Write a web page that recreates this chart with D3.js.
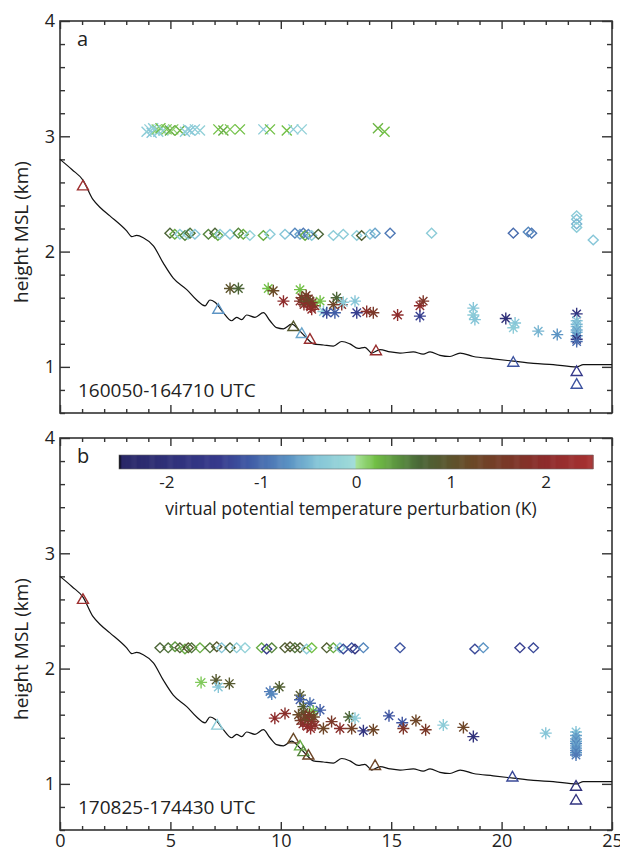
<!DOCTYPE html>
<html lang="en">
<head>
<meta charset="UTF-8">
<title>Virtual potential temperature perturbation</title>
<script src="https://d3js.org/d3.v7.min.js"></script>
<style>
  body { margin: 0; background: #fff; }
  text { font-family: "Open Sans", "Noto Sans", sans-serif; fill: #222; }
</style>
</head>
<body>
<div id="chart"></div>
<script>
// terrain profile (distance km, height km MSL)
const terrainDist = [0,0.55,1.04,1.5,1.83,2.26,3.02,3.25,3.47,3.77,4.23,4.68,5.13,5.74,6.19,6.57,6.79,7.02,7.4,7.77,8.0,8.23,8.45,8.83,9.21,9.51,9.81,10.12,10.49,10.87,11.17,11.47,11.93,12.38,12.76,13.13,13.51,13.81,14.12,14.49,14.95,15.4,16.0,16.45,16.76,17.21,17.66,18.12,18.72,19.62,20.53,21.44,22.34,23.4,23.7,25];
const terrainHeight = [2.8,2.71,2.62,2.45,2.38,2.31,2.18,2.13,2.14,2.12,2.05,1.9,1.77,1.67,1.58,1.53,1.58,1.56,1.47,1.4,1.43,1.41,1.45,1.43,1.47,1.4,1.34,1.33,1.37,1.31,1.25,1.2,1.19,1.18,1.22,1.2,1.16,1.17,1.12,1.15,1.13,1.12,1.13,1.11,1.13,1.1,1.09,1.12,1.09,1.07,1.05,1.03,1.02,1.0,1.02,1.02];

// observations: [distance, height, perturbation K]
const aCross = [[3.92,3.04,-0.3],[4.05,3.06,-0.2],[4.15,3.03,-0.4],[4.22,3.07,-0.3],[4.3,3.05,-0.2],[4.38,3.06,0.1],[4.45,3.04,-0.3],[4.55,3.07,0.2],[4.68,3.05,-0.2],[4.83,3.06,0.15],[4.98,3.05,0.3],[5.13,3.06,0.1],[5.43,3.05,0.25],[5.66,3.04,-0.3],[5.8,3.06,-0.2],[5.89,3.05,-0.4],[6.11,3.06,-0.3],[6.34,3.05,-0.2],[7.17,3.06,0.2],[7.4,3.05,0.3],[7.7,3.06,0.15],[8.15,3.06,0.2],[9.21,3.06,-0.3],[9.51,3.06,0.2],[10.27,3.05,0.2],[10.57,3.06,-0.3],[10.95,3.06,-0.2],[14.4,3.07,0.25],[14.7,3.04,0.2]];
const aDiamond = [[4.98,2.16,0.7],[5.2,2.15,0.3],[5.43,2.15,-0.3],[5.66,2.14,0.5],[5.8,2.15,-0.2],[5.89,2.16,0.6],[6.11,2.15,-0.4],[6.72,2.15,0.5],[7.02,2.16,0.7],[7.15,2.14,0.3],[7.25,2.15,-0.3],[7.7,2.15,-0.4],[8.08,2.16,0.5],[8.3,2.15,0.3],[8.6,2.14,-0.2],[9.21,2.14,0.3],[9.51,2.15,-0.3],[10.19,2.15,-0.4],[10.64,2.16,-0.8],[10.87,2.15,-0.6],[11.02,2.16,-0.9],[11.1,2.14,0.3],[11.25,2.15,-0.8],[11.4,2.14,-0.3],[11.7,2.15,0.7],[12.38,2.14,-0.3],[12.83,2.15,-0.3],[13.44,2.14,-0.3],[13.66,2.14,0.8],[14.04,2.15,-0.4],[14.27,2.16,-0.6],[14.95,2.16,-0.9],[16.83,2.16,-0.3],[20.53,2.16,-1.0],[21.21,2.17,-0.8],[21.36,2.16,-0.9],[23.4,2.31,-0.3],[23.4,2.28,-0.4],[23.4,2.24,-0.5],[23.4,2.21,-0.3],[24.15,2.1,-0.4]];
const aStar = [[7.7,1.68,1.0],[8.08,1.68,0.7],[9.43,1.68,0.2],[9.66,1.66,1.2],[10.12,1.57,2.0],[10.87,1.67,0.2],[10.87,1.57,1.9],[10.95,1.6,1.6],[11.05,1.54,1.8],[11.1,1.57,1.0],[11.15,1.62,1.4],[11.2,1.55,2.0],[11.25,1.59,1.7],[11.32,1.57,1.1],[11.35,1.52,1.9],[11.4,1.5,2.1],[11.45,1.56,1.5],[11.55,1.53,1.8],[11.78,1.57,0.2],[11.93,1.48,-0.3],[12.08,1.47,-1.3],[12.38,1.54,1.3],[12.45,1.47,-1.1],[12.53,1.6,0.7],[12.76,1.54,1.8],[12.83,1.56,-0.3],[13.36,1.57,-0.4],[13.44,1.47,-1.4],[13.89,1.48,1.9],[14.19,1.47,1.6],[15.29,1.45,2.0],[16.3,1.53,2.0],[16.45,1.57,1.7],[16.3,1.44,-1.4],[18.72,1.51,-0.4],[18.72,1.45,-0.3],[18.79,1.41,-0.4],[20.19,1.42,-2.0],[20.61,1.38,-0.4],[20.53,1.34,-0.3],[21.66,1.31,-0.5],[22.52,1.28,-0.7],[23.4,1.46,-1.8],[23.4,1.4,-0.4],[23.4,1.37,-0.5],[23.4,1.35,-0.4],[23.4,1.32,-0.6],[23.4,1.3,-0.5],[23.4,1.27,-0.7],[23.4,1.24,-1.9],[23.4,1.22,-1.0]];
const aTriangle = [[1.04,2.57,2.3],[7.17,1.5,-0.7],[10.57,1.35,0.9],[10.95,1.29,-0.6],[11.32,1.24,2.2],[14.31,1.14,2.2],[20.53,1.04,-1.2],[23.4,0.96,-1.5],[23.4,0.85,-1.2]];

const bDiamond = [[4.53,2.18,0.7],[4.9,2.18,0.6],[5.21,2.19,0.4],[5.43,2.18,0.8],[5.66,2.17,0.3],[5.81,2.18,0.9],[5.96,2.18,0.6],[6.34,2.18,0.3],[6.79,2.18,0.6],[7.1,2.19,0.9],[7.32,2.18,-0.4],[7.7,2.18,0.7],[8.0,2.18,-0.3],[8.38,2.18,-0.2],[9.13,2.18,0.3],[9.36,2.17,-1.5],[9.59,2.18,0.5],[10.19,2.18,0.8],[10.42,2.19,0.9],[10.64,2.18,0.6],[10.87,2.18,0.8],[11.17,2.17,-0.3],[11.4,2.18,0.2],[12.08,2.18,0.8],[12.38,2.18,0.3],[12.68,2.18,-0.4],[12.83,2.17,-1.3],[13.21,2.18,-1.2],[13.36,2.17,-1.8],[13.74,2.18,-0.8],[15.4,2.18,-1.2],[18.79,2.17,-1.3],[19.17,2.18,-0.7],[20.83,2.18,-1.4],[21.44,2.18,-1.3]];
const bStar = [[6.39,1.88,0.15],[7.07,1.9,0.9],[7.17,1.84,-0.4],[7.67,1.87,0.9],[9.51,1.8,-0.9],[9.59,1.78,-0.8],[9.73,1.57,2.0],[9.93,1.84,0.8],[10.19,1.61,1.9],[10.87,1.77,0.9],[10.87,1.73,-1.1],[11.02,1.67,0.8],[11.32,1.7,-1.0],[11.47,1.63,0.2],[11.78,1.64,-1.1],[10.8,1.6,1.2],[10.9,1.55,1.5],[11.0,1.52,1.9],[11.05,1.62,1.0],[11.1,1.58,1.4],[11.2,1.5,2.0],[11.25,1.56,1.2],[11.3,1.6,1.6],[11.35,1.48,2.1],[11.4,1.54,1.8],[11.5,1.58,1.3],[11.55,1.51,1.9],[11.93,1.48,1.3],[12.3,1.54,1.6],[12.68,1.48,1.9],[13.1,1.58,0.7],[13.36,1.57,-0.3],[13.21,1.48,1.4],[13.74,1.46,-1.8],[14.19,1.47,1.3],[14.9,1.59,-1.2],[15.5,1.53,-1.2],[15.55,1.48,1.7],[16.12,1.55,1.3],[16.56,1.47,1.6],[17.36,1.51,-0.3],[18.27,1.49,1.3],[18.72,1.41,-1.9],[22.0,1.44,-0.4],[23.37,1.45,-0.4],[23.37,1.42,-0.6],[23.37,1.39,-0.7],[23.37,1.37,-0.6],[23.37,1.35,-0.8],[23.37,1.33,-0.6],[23.37,1.31,-0.7],[23.37,1.29,-0.8],[23.37,1.27,-0.7],[23.37,1.25,-0.9]];
const bTriangle = [[1.04,2.6,2.3],[7.12,1.51,-0.3],[10.57,1.39,1.2],[10.87,1.33,0.3],[11.02,1.28,0.5],[11.25,1.25,1.3],[14.27,1.16,1.3],[20.49,1.06,-1.3],[23.37,0.98,-1.9],[23.37,0.86,-1.8]];

const colorStops = [-2.5,-2.47,-1.45,-1.13,-0.7,-0.4,-0.01,0,0.2,0.45,0.66,0.88,1.2,1.6,2.0,2.5];
const colorValues = ["#000000","#2a2868","#363a8c","#3f5aa5","#5c94c4","#86c6d8","#a0dcd8","#a8e29a","#72c046","#5a9040","#4a6838","#555a30","#6a4a28","#7a3828","#8e2c2c","#a83232"];
const colorTicks = [-2,-1,0,1,2];

const W = 620, H = 851;
const svg = d3.select("#chart").append("svg").attr("width", W).attr("height", H);

const color = d3.scaleLinear().domain(colorStops).range(colorValues).clamp(true);
const x = d3.scaleLinear().domain([0, 25]).range([60, 612]);

const shapes = {
  cross: "M-5,-5L5,5M-5,5L5,-5",
  diamond: "M0,-4.8L5,0L0,4.8L-5,0Z",
  star: "M-6,0L6,0M0,-6L0,6M-4.2,-4.2L4.2,4.2M-4.2,4.2L4.2,-4.2",
  triangle: "M0,-5.5L5.5,4L-5.5,4Z"
};

function panel(top, bottom, name, time, sets, showX) {
  const y = d3.scaleLinear().domain([0.6, 4]).range([bottom, top]);
  const g = svg.append("g");

  // minor + major ticks, inward on all four sides
  const xMinor = d3.range(0, 26, 1).filter(v => v % 5);
  const yMinor = d3.range(0.6, 4.01, 0.2).filter(v => Math.abs(v - Math.round(v)) > 0.01);
  const axes = [
    [d3.axisBottom(x).tickValues(xMinor).tickSize(-4).tickFormat(""), `translate(0,${bottom})`],
    [d3.axisBottom(x).tickValues([0,5,10,15,20,25]).tickSize(-8).tickPadding(4).tickFormat(showX ? d => String(d) : ""), `translate(0,${bottom})`],
    [d3.axisTop(x).tickValues(xMinor).tickSize(-4).tickFormat(""), `translate(0,${top})`],
    [d3.axisTop(x).tickValues([0,5,10,15,20,25]).tickSize(-8).tickFormat(""), `translate(0,${top})`],
    [d3.axisLeft(y).tickValues(yMinor).tickSize(-5).tickFormat(""), `translate(60,0)`],
    [d3.axisLeft(y).tickValues([1,2,3,4]).tickSize(-10).tickPadding(5).tickFormat(d => String(d)), `translate(60,0)`],
    [d3.axisRight(y).tickValues(yMinor).tickSize(-5).tickFormat(""), `translate(612,0)`],
    [d3.axisRight(y).tickValues([1,2,3,4]).tickSize(-10).tickFormat(""), `translate(612,0)`]
  ];
  axes.forEach(([ax, tr]) => {
    const a = g.append("g").attr("transform", tr).call(ax);
    a.select(".domain").remove();
    a.selectAll("line").attr("stroke", "#333").attr("stroke-width", 1.4);
    a.selectAll("text").style("font-size", "18px").attr("fill", "#222");
  });

  g.append("rect").attr("x", 60).attr("y", top).attr("width", 552).attr("height", bottom - top)
    .attr("fill", "none").attr("stroke", "#333").attr("stroke-width", 1.6);

  // terrain
  const line = d3.line().x((d, i) => x(terrainDist[i])).y(d => y(d)).curve(d3.curveMonotoneX);
  g.append("path").attr("d", line(terrainHeight)).attr("fill", "none").attr("stroke", "#111").attr("stroke-width", 1.2);

  sets.forEach(([data, shape]) => {
    g.append("g").selectAll("path").data(data).join("path")
      .attr("transform", d => `translate(${x(d[0])},${y(d[1])})`)
      .attr("d", shapes[shape])
      .attr("fill", "none")
      .attr("stroke", d => color(d[2]))
      .attr("stroke-width", 1.4);
  });

  g.append("text").attr("x", 77).attr("y", top + 25).style("font-size", "20px").text(name);
  g.append("text").attr("x", 78).attr("y", bottom - 16).style("font-size", "19px").text(time);
  g.append("text")
    .attr("transform", `translate(28,${(top + bottom) / 2 + 15}) rotate(-90)`)
    .attr("text-anchor", "middle").style("font-size", "19px").text("height MSL (km)");
  return y;
}

panel(21, 413, "a", "160050-164710 UTC",
  [[aCross, "cross"], [aDiamond, "diamond"], [aStar, "star"], [aTriangle, "triangle"]], false);
panel(438, 830, "b", "170825-174430 UTC",
  [[bDiamond, "diamond"], [bStar, "star"], [bTriangle, "triangle"]], true);

// colour bar
const cb = d3.scaleLinear().domain([-2.5, 2.5]).range([119, 593]);
const steps = d3.range(-2.5, 2.5, 0.01);
svg.append("g").selectAll("rect").data(steps).join("rect")
  .attr("x", d => cb(d)).attr("y", 455)
  .attr("width", cb(0.01) - cb(0) + 0.6).attr("height", 14)
  .attr("fill", d => color(d + 0.005));
svg.append("rect").attr("x", 119).attr("y", 455).attr("width", 474).attr("height", 14)
  .attr("fill", "none").attr("stroke", "#666").attr("stroke-width", 0.6);
const cbAxis = svg.append("g").attr("transform", "translate(0,469)")
  .call(d3.axisBottom(cb).tickValues(colorTicks).tickSize(0).tickPadding(7).tickFormat(d => String(d)));
cbAxis.select(".domain").remove();
cbAxis.selectAll("text").style("font-size", "17px").attr("fill", "#222");
svg.append("text").attr("x", 351).attr("y", 515).attr("text-anchor", "middle")
  .style("font-size", "17.5px").text("virtual potential temperature perturbation (K)");
</script>
</body>
</html>
